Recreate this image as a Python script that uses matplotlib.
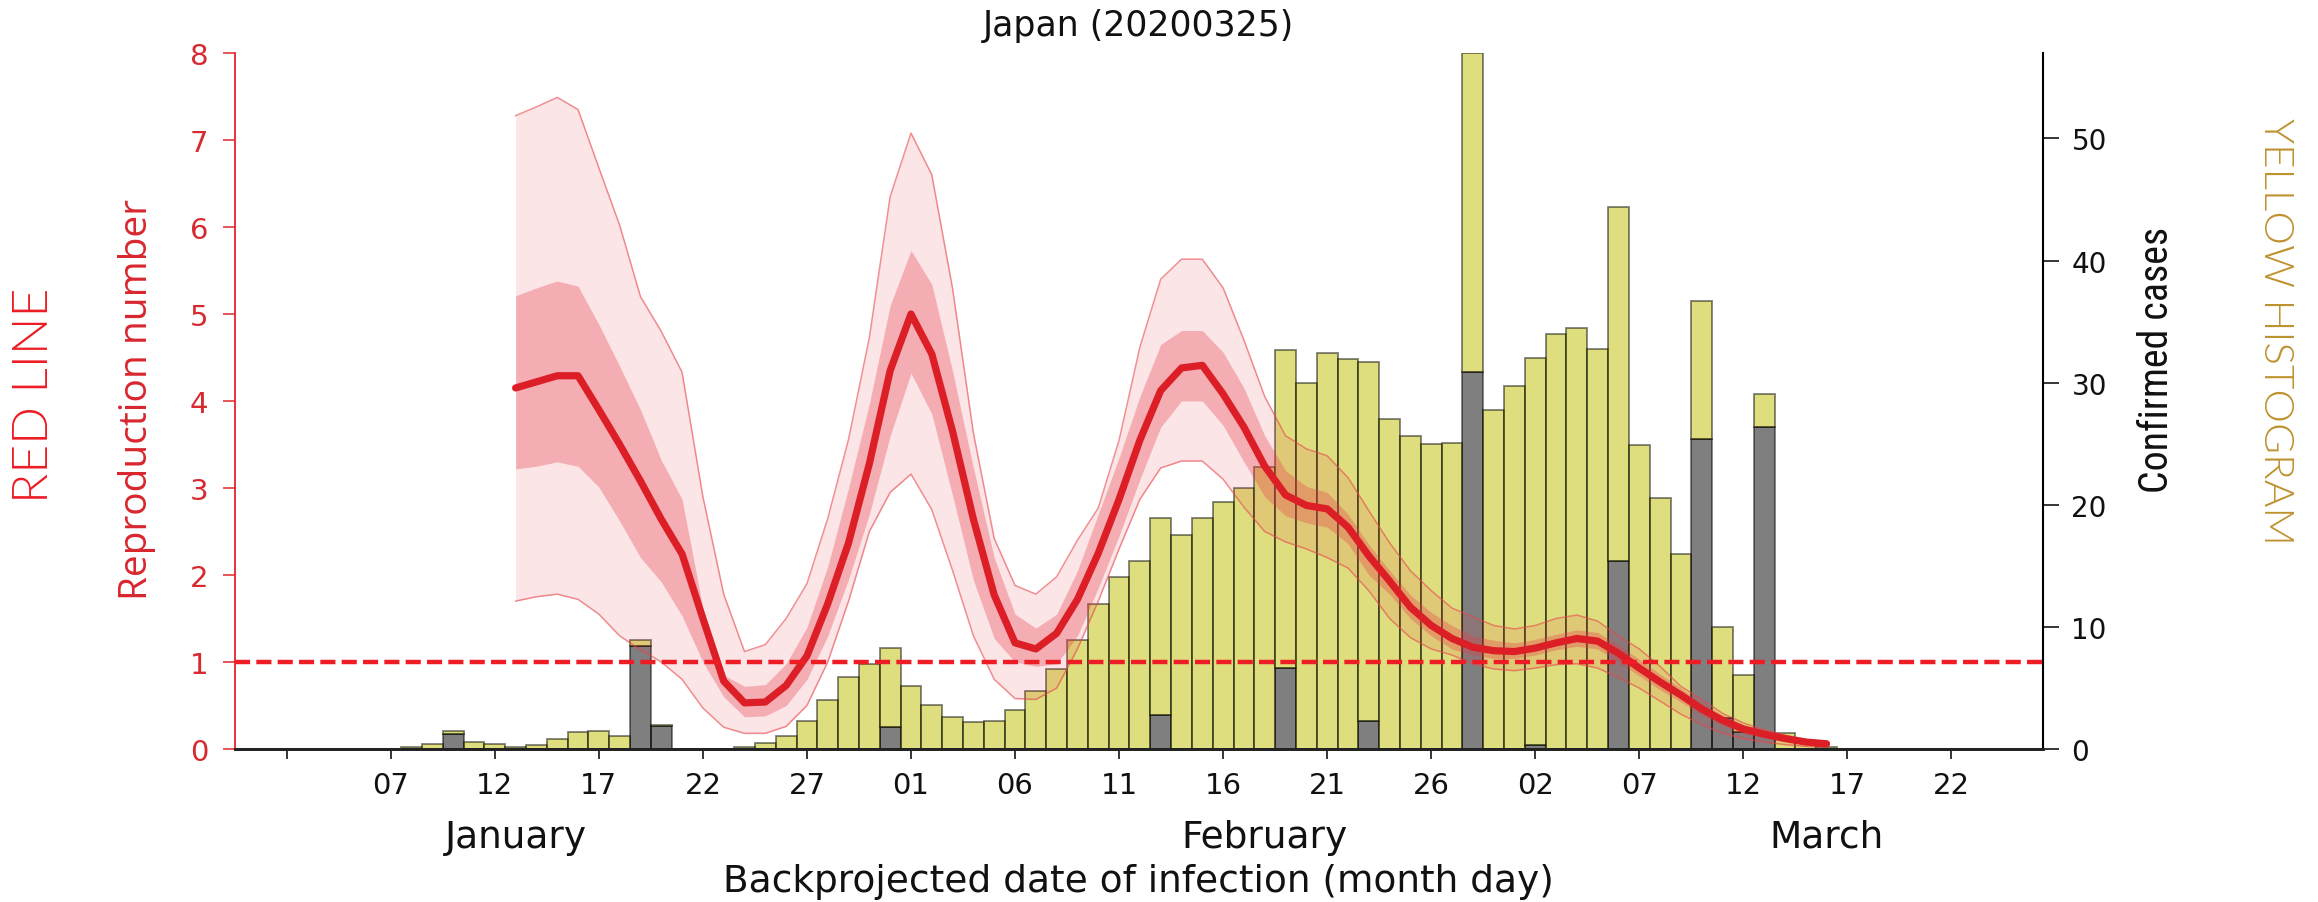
import matplotlib
matplotlib.use('Agg')
import matplotlib.pyplot as plt
import matplotlib.dates as mdates
import matplotlib.transforms as mtransforms
import numpy as np

# ---------------- data ----------------
title_text = 'Japan (20200325)'
xlabel_text = 'Backprojected date of infection (month day)'

bar_start = '2020-01-08'
# total confirmed (backprojected) cases per day, Jan 8 .. Mar 16
bar_total = [0.20, 0.40, 1.50, 0.55, 0.38, 0.20, 0.35, 0.80, 1.37, 1.50,
             1.06, 8.90, 1.95, 0.00, 0.00, 0.00, 0.15, 0.52, 1.04, 2.32,
             4.04, 5.87, 7.00, 8.30, 5.18, 3.63, 2.62, 2.18, 2.30, 3.20,
             4.75, 6.57, 8.95, 11.9, 14.1, 15.4, 18.9, 17.5, 18.9, 20.2,
             21.35, 23.1, 32.7, 30.0, 32.4, 31.9, 31.7, 27.0, 25.65, 24.95,
             25.05, 57.0, 27.75, 29.75, 32.0, 34.0, 34.5, 32.75, 44.35, 24.9,
             20.55, 16.0, 36.7, 10.0, 6.05, 29.05, 1.35, 0.60, 0.20]
# grey (lower, stacked) part of each bar
bar_grey = [0, 0, 1.25, 0, 0, 0, 0, 0, 0, 0,
            0, 8.45, 1.85, 0, 0, 0, 0, 0, 0, 0,
            0, 0, 0, 1.78, 0, 0, 0, 0, 0, 0,
            0, 0, 0, 0, 0, 0, 2.8, 0, 0, 0,
            0, 0, 6.6, 0, 0, 0, 2.32, 0, 0, 0,
            0, 30.9, 0, 0, 0.3, 0, 0, 0, 15.4, 0,
            0, 0, 25.35, 2.5, 1.4, 26.4, 0, 0, 0]

r_start = '2020-01-13'
r_median = [4.15, 4.22, 4.29, 4.29, 3.90, 3.50, 3.08, 2.64, 2.24, 1.50,
            0.78, 0.53, 0.54, 0.73, 1.07, 1.67, 2.37, 3.28, 4.35, 5.00,
            4.54, 3.65, 2.64, 1.77, 1.22, 1.15, 1.33, 1.72, 2.25, 2.87,
            3.55, 4.12, 4.38, 4.41, 4.08, 3.70, 3.25, 2.92, 2.80, 2.76,
            2.55, 2.22, 1.93, 1.63, 1.42, 1.27, 1.17, 1.13, 1.12, 1.16,
            1.22, 1.27, 1.24, 1.10, 0.93, 0.77, 0.62, 0.46, 0.33, 0.23,
            0.17, 0.12, 0.08, 0.06]
r_inner_hi = [5.21, 5.30, 5.38, 5.32, 4.88, 4.40, 3.90, 3.32, 2.87, 1.62,
              0.85, 0.72, 0.74, 0.98, 1.40, 2.10, 3.00, 3.97, 5.10, 5.73,
              5.34, 4.34, 3.23, 2.20, 1.55, 1.39, 1.55, 2.05, 2.70, 3.35,
              4.05, 4.65, 4.81, 4.81, 4.56, 4.15, 3.60, 3.20, 3.02, 2.95,
              2.70, 2.35, 2.05, 1.77, 1.57, 1.42, 1.30, 1.25, 1.22, 1.26,
              1.32, 1.37, 1.34, 1.20, 1.03, 0.86, 0.70, 0.53, 0.39, 0.28,
              0.21, 0.15, 0.10, 0.08]
r_inner_lo = [3.22, 3.25, 3.30, 3.25, 3.01, 2.62, 2.20, 1.92, 1.53, 1.00,
              0.60, 0.37, 0.38, 0.50, 0.80, 1.30, 1.95, 2.70, 3.60, 4.32,
              3.85, 2.91, 1.94, 1.27, 1.00, 0.95, 0.98, 1.30, 1.85, 2.45,
              3.10, 3.70, 4.00, 4.00, 3.72, 3.30, 2.90, 2.68, 2.60, 2.55,
              2.36, 2.00, 1.78, 1.50, 1.30, 1.15, 1.08, 1.04, 1.04, 1.08,
              1.14, 1.18, 1.15, 1.00, 0.84, 0.68, 0.54, 0.39, 0.27, 0.18,
              0.13, 0.09, 0.06, 0.04]
r_outer_hi = [7.28, 7.38, 7.49, 7.35, 6.68, 6.02, 5.20, 4.80, 4.33, 2.90,
              1.78, 1.12, 1.20, 1.50, 1.90, 2.65, 3.56, 4.73, 6.35, 7.08,
              6.60, 5.29, 3.63, 2.42, 1.88, 1.78, 1.98, 2.40, 2.77, 3.55,
              4.62, 5.40, 5.63, 5.63, 5.30, 4.70, 4.05, 3.60, 3.45, 3.37,
              3.12, 2.74, 2.37, 2.05, 1.82, 1.62, 1.52, 1.42, 1.38, 1.42,
              1.50, 1.54, 1.47, 1.30, 1.15, 0.95, 0.72, 0.57, 0.41, 0.30,
              0.22, 0.16, 0.11, 0.08]
r_outer_lo = [1.70, 1.75, 1.78, 1.72, 1.55, 1.30, 1.14, 1.00, 0.80, 0.47,
              0.25, 0.18, 0.18, 0.26, 0.50, 1.00, 1.70, 2.50, 2.95, 3.16,
              2.75, 2.05, 1.30, 0.80, 0.58, 0.57, 0.70, 1.15, 1.70, 2.30,
              2.87, 3.23, 3.31, 3.31, 3.10, 2.78, 2.50, 2.38, 2.30, 2.20,
              2.08, 1.82, 1.50, 1.28, 1.15, 1.08, 0.98, 0.92, 0.90, 0.93,
              0.97, 0.98, 0.93, 0.82, 0.70, 0.55, 0.40, 0.28, 0.18, 0.12,
              0.08, 0.05, 0.03, 0.02]

tick_start = '2020-01-02'
tick_labels = ['', '07', '12', '17', '22', '27', '01', '06', '11', '16',
               '21', '26', '02', '07', '12', '17', '22']
month_names = ['January', 'February', 'March']
month_label_dates = ['2020-01-13', '2020-02-18', '2020-03-16']
r_ticks = [0, 1, 2, 3, 4, 5, 6, 7, 8]
case_ticks = [0, 10, 20, 30, 40, 50]

# ---------------- figure ----------------
plt.rcParams['font.family'] = ['DejaVu Sans']
W, H = 2318, 903
fig = plt.figure(figsize=(W / 100, H / 100), dpi=100)

ax_l, ax_r, ax_t, ax_b = 234.7, 2043, 54, 750
ax = fig.add_axes([ax_l / W, 1 - ax_b / H, (ax_r - ax_l) / W, (ax_b - ax_t) / H])
ax2 = ax.twinx()
# reproduction-number axes drawn above the histogram axes
ax.set_zorder(ax2.get_zorder() + 1)
ax.patch.set_visible(False)

def d2n(s):
    return mdates.date2num(np.datetime64(s))

bar_x = d2n(bar_start) + np.arange(len(bar_total))
r_x = d2n(r_start) + np.arange(len(r_median))
tot = np.array(bar_total)
grey = np.array(bar_grey)

RED = '#dc1f26'
BAND = (0.90, 0.235, 0.275)
# reproduction number (semi-transparent bands over the bars)
ax.fill_between(r_x, r_outer_lo, r_outer_hi, color=BAND, alpha=0.13, lw=0, zorder=1)
ax.fill_between(r_x, r_inner_lo, r_inner_hi, color=BAND, alpha=0.32, lw=0, zorder=2)
ax.plot(r_x, r_outer_hi, color='#e9464c', alpha=0.6, lw=1.1, zorder=3)
ax.plot(r_x, r_outer_lo, color='#e9464c', alpha=0.6, lw=1.1, zorder=3)
ax.plot(r_x, r_median, color=RED, lw=5.2, zorder=4, solid_joinstyle='round',
        solid_capstyle='round')

x0 = d2n(tick_start)
ax.set_xlim(x0 - 2.5, x0 + 84.4)
ax.set_ylim(0, 8)
ax.set_yticks(r_ticks)

# histogram
ax2.bar(bar_x, grey, width=1.0, color='k', alpha=0.5, edgecolor='k', linewidth=1.3, zorder=2)
ax2.bar(bar_x, tot - grey, bottom=grey, width=1.0, color='y', alpha=0.5,
        edgecolor='k', linewidth=1.3, zorder=2)
ax2.set_ylim(0, 57)
ax2.set_yticks(case_ticks)

# R = 1 threshold line
ax.axhline(1, color='#ee1d25', lw=3.2, dashes=(3.4, 1.4), zorder=5)

# x ticks
xt = x0 + 5 * np.arange(len(tick_labels))
ax.set_xticks(xt)
ax.set_xticklabels(tick_labels)
ax.tick_params(axis='x', direction='out', length=7.5, width=1.1, color='k',
               labelsize=21, pad=8, labelcolor='#111111')
ax.tick_params(axis='y', direction='out', length=9, width=1.1, color='#e0252b',
               labelsize=21, pad=10, labelcolor='#d62a30')
ax2.tick_params(axis='y', direction='out', length=11.5, width=1.1, color='k',
                labelsize=20, pad=9, labelcolor='#111111')

for a in (ax, ax2):
    a.spines['top'].set_visible(False)
ax.spines['right'].set_visible(False)
ax2.spines['left'].set_visible(False)
ax.spines['left'].set_color('#e0252b')
ax.spines['left'].set_linewidth(1.3)
ax.spines['bottom'].set_linewidth(2.0)
ax.spines['bottom'].set_color('#222222')
ax2.spines['bottom'].set_linewidth(2.0)
ax2.spines['bottom'].set_color('#222222')
ax2.spines['right'].set_linewidth(1.5)
ax2.spines['right'].set_color('k')

# month labels
mtrans = mtransforms.blended_transform_factory(ax.transData, fig.transFigure)
for name, dstr in zip(month_names, month_label_dates):
    ax.text(d2n(dstr), 1 - 838 / H, name, transform=mtrans, ha='center',
            va='center', fontsize=27, color='#111111')

cx = (ax_l + ax_r) / 2 / W
fig.text(cx, 1 - 882 / H, xlabel_text, ha='center', va='center', fontsize=27,
         color='#111111')
fig.text(cx, 1 - 26 / H, title_text, ha='center', va='center', fontsize=25,
         color='#111111')

# axis labels / annotations
t_red = fig.text(35 / W, 1 - 395 / H, 'RED LINE', rotation=90, ha='center', va='center',
                 fontsize=30, color='#ed1c24', family=['Lato', 'Open Sans', 'DejaVu Sans'],
                 fontweight=300)
t_rep = fig.text(137 / W, 1 - 399 / H, 'Reproduction number', rotation=90, ha='center',
                 va='center', fontsize=30, color='#d8262e',
                 family=['Open Sans', 'Noto Sans', 'DejaVu Sans'])
t_conf = fig.text(2156 / W, 1 - 360 / H, 'Confirmed cases', rotation=90, ha='center',
                  va='center', fontsize=30, color='#111111',
                  family=['Liberation Sans Narrow', 'Roboto Condensed', 'Open Sans', 'DejaVu Sans'])
t_yel = fig.text(2276 / W, 1 - 331 / H, 'YELLOW HISTOGRAM', rotation=270, ha='center',
                 va='center', fontsize=30, color='#bf9230',
                 family=['Lato', 'Open Sans', 'DejaVu Sans'], fontweight=300)

fig.canvas.draw()
renderer = fig.canvas.get_renderer()
for t, target in [(t_red, 215), (t_rep, 402), (t_conf, 266), (t_yel, 428)]:
    h = t.get_window_extent(renderer).height
    t.set_fontsize(t.get_fontsize() * target / h)

fig.savefig('out.png', dpi=100)
